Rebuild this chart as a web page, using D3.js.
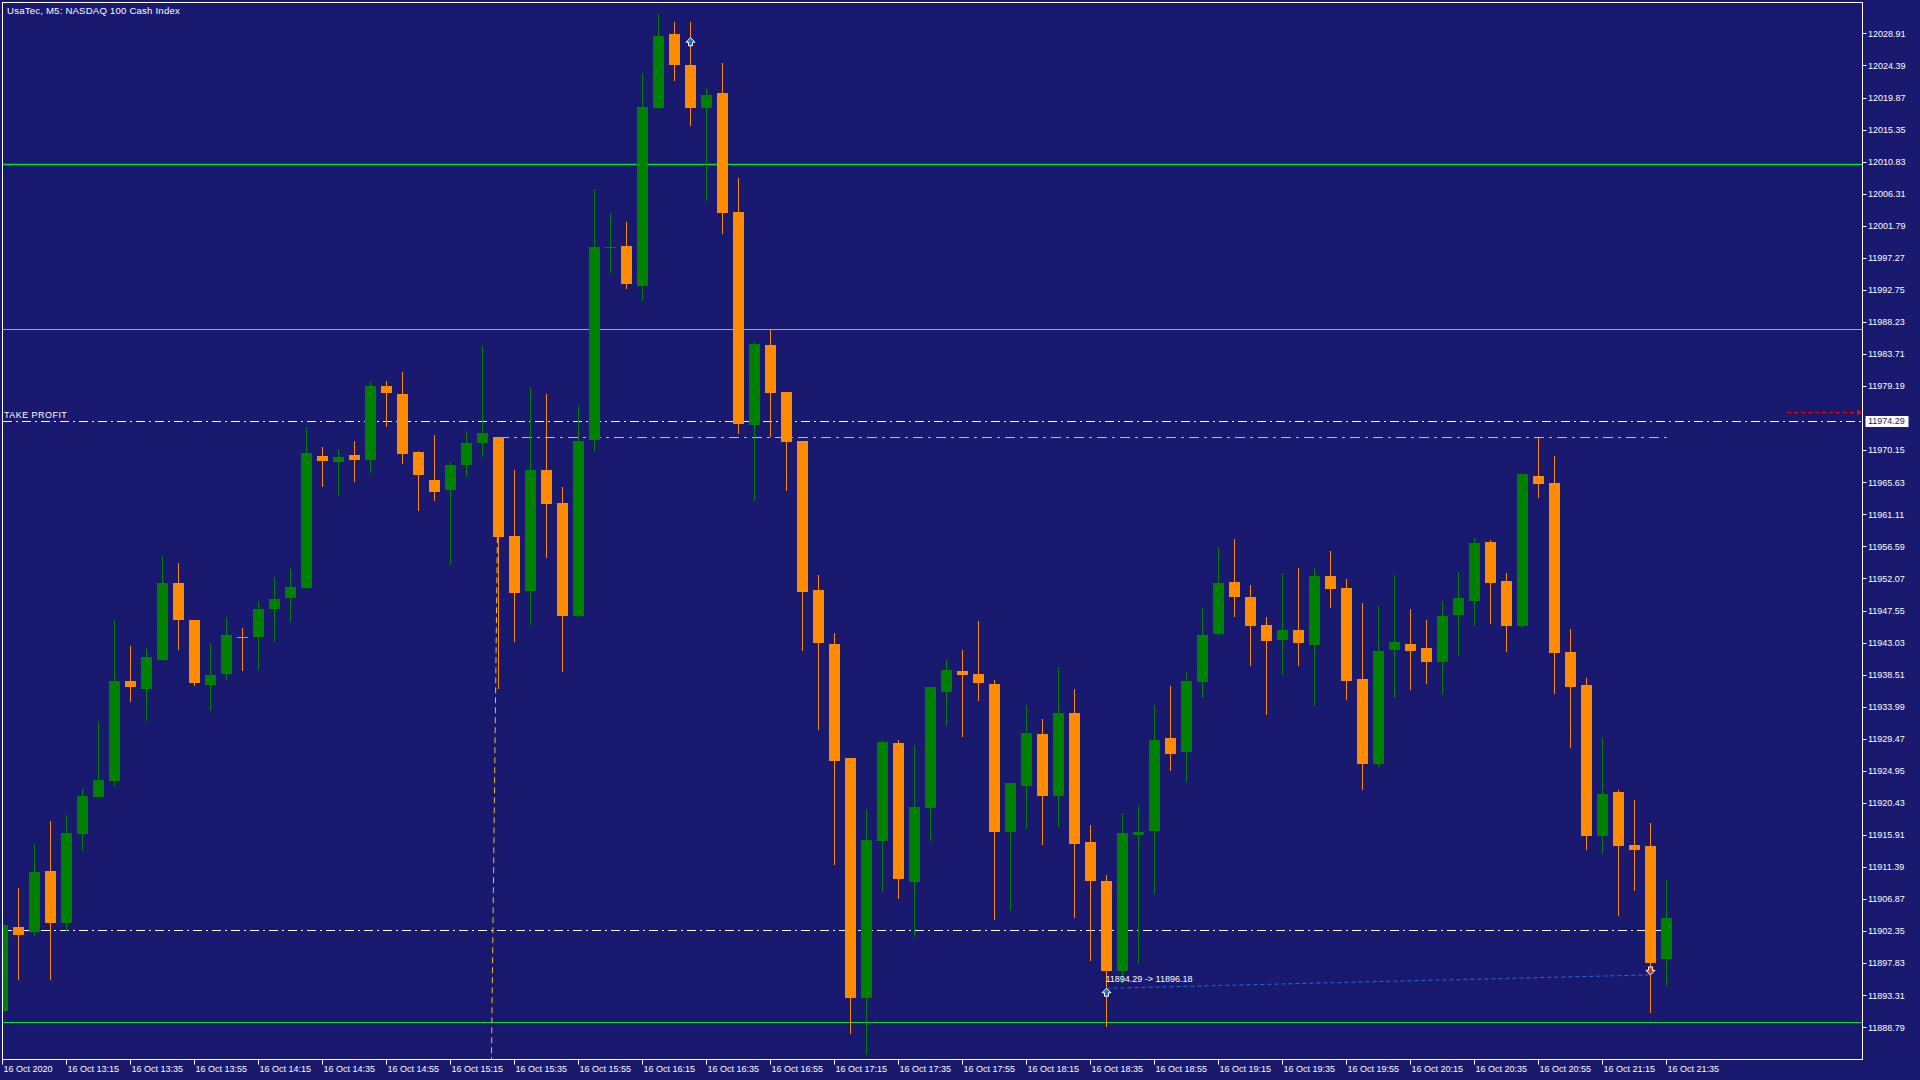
<!DOCTYPE html>
<html>
<head>
<meta charset="utf-8">
<script src="https://cdn.jsdelivr.net/npm/d3@7"></script>
<style>
body { margin: 0; background: #191970; overflow: hidden; }
text { font-family: "Liberation Sans", Arial, sans-serif; font-size: 9px; fill: #ffffff; }
</style>
</head>
<body>
<div id="chart"></div>
<script>
// UsaTec M5, 16 Oct 2020 12:55 .. 21:35 (105 bars)
let opens = [11891.07,11902.95,11902.16,11910.83,11903.54,11916.01,11921.26,11923.49,11937.60,11936.55,
  11940.62,11951.45,11946.20,11937.08,11938.65,11943.84,11943.84,11947.76,11949.35,11950.76,
  11969.33,11968.53,11969.47,11968.81,11979.19,11978.07,11969.89,11965.94,11964.58,11968.10,
  11971.21,11972.00,11958.05,11950.35,11967.34,11962.69,11946.76,11971.62,11998.62,11998.94,
  11993.28,12018.45,12028.84,12024.43,12018.33,12020.53,12003.72,11973.64,11984.97,11978.36,
  11971.40,11950.46,11942.84,11926.73,11892.98,11915.09,11928.86,11909.31,11919.74,11936.06,
  11939.04,11938.62,11937.16,11916.35,11922.81,11930.12,11921.46,11933.09,11914.91,11909.41,
  11896.77,11915.94,11916.51,11929.57,11927.60,11937.47,11944.23,11951.56,11949.45,11945.50,
  11943.39,11944.80,11942.68,11952.41,11950.69,11937.87,11925.94,11942.05,11942.83,11942.27,
  11940.32,11946.96,11948.96,11957.22,11951.70,11945.40,11966.52,11965.52,11941.72,11937.03,
  11915.79,11921.98,11914.51,11914.35,11898.35];
let highs = [11903.50,11908.40,11914.63,11917.85,11918.70,11922.38,11931.83,11946.20,11942.53,11942.26,
  11955.26,11954.21,11946.20,11942.99,11946.60,11945.09,11948.96,11952.27,11953.54,11973.41,
  11970.59,11970.31,11971.44,11979.90,11979.90,11981.17,11970.03,11972.29,11968.48,11972.85,
  11984.83,11972.00,11967.35,11979.05,11978.04,11964.95,11976.41,12007.00,12003.60,12002.34,
  12023.30,12031.67,12030.54,12030.54,12021.22,12024.75,12008.51,11985.41,11987.23,11978.36,
  11971.40,11952.55,11944.36,11926.73,11919.58,11929.28,11929.28,11928.60,11936.74,11940.55,
  11941.96,11946.08,11937.73,11923.23,11934.24,11932.26,11939.56,11936.48,11917.30,11910.26,
  11919.00,11919.98,11934.22,11936.90,11938.88,11947.90,11956.50,11957.63,11951.14,11946.63,
  11952.83,11953.54,11953.54,11955.93,11951.97,11948.63,11948.18,11952.53,11947.74,11946.23,
  11948.91,11952.98,11957.77,11957.49,11952.81,11966.80,11971.88,11969.31,11944.95,11938.04,
  11929.56,11922.26,11920.81,11917.58,11909.55];
let lows = [11890.50,11895.66,11901.83,11895.66,11902.56,11913.84,11921.26,11922.77,11934.85,11932.16,
  11940.62,11942.07,11937.08,11933.47,11937.93,11939.18,11939.31,11943.29,11946.11,11950.76,
  11965.14,11963.87,11965.85,11967.12,11973.60,11968.39,11961.76,11963.17,11954.15,11966.55,
  11969.37,11936.66,11943.29,11945.69,11955.13,11938.96,11946.76,11969.99,11995.29,11993.02,
  11991.39,12018.45,12022.29,12015.93,12005.49,12000.83,11972.63,11963.19,11972.13,11964.57,
  11942.01,11930.90,11911.86,11888.02,11885.05,11908.05,11907.01,11901.69,11915.25,11931.47,
  11929.91,11934.92,11904.04,11905.39,11916.87,11914.63,11917.23,11904.38,11898.27,11889.01,
  11894.98,11897.90,11907.76,11925.06,11923.51,11935.35,11944.09,11946.77,11939.86,11932.95,
  11938.59,11939.86,11934.22,11948.04,11935.14,11922.32,11925.66,11935.42,11936.42,11937.37,
  11935.81,11941.22,11945.56,11945.84,11941.83,11945.23,11963.57,11935.98,11928.34,11913.95,
  11913.40,11904.64,11908.21,11890.99,11894.78];
let closes = [11903.21,11901.83,11910.69,11903.54,11916.21,11921.39,11923.62,11937.60,11936.82,11941.02,
  11951.45,11946.27,11937.34,11938.46,11944.10,11943.64,11947.78,11949.17,11950.86,11969.75,
  11968.67,11969.19,11968.81,11979.19,11978.26,11969.66,11966.69,11964.30,11968.06,11971.16,
  11972.57,11957.95,11950.06,11967.34,11962.56,11946.76,11971.43,11998.81,11998.80,11993.59,
  12018.51,12028.52,12024.49,12018.33,12020.21,12003.66,11973.89,11985.09,11978.23,11971.25,
  11950.20,11943.00,11926.36,11892.98,11915.20,11929.02,11909.72,11919.84,11936.74,11939.14,
  11938.46,11937.31,11916.35,11923.23,11930.27,11921.46,11933.09,11914.67,11909.46,11896.77,
  11916.18,11916.32,11929.29,11927.31,11937.61,11944.09,11951.42,11949.45,11945.36,11943.25,
  11944.80,11942.96,11952.41,11950.58,11937.65,11925.94,11941.83,11943.11,11941.88,11940.32,
  11946.79,11949.30,11957.05,11951.36,11945.40,11966.80,11965.41,11941.49,11936.70,11915.79,
  11921.65,11914.40,11913.84,11897.90,11904.20];

let priceTicks = ["11888.79","11893.31","11897.83","11902.35","11906.87","11911.39","11915.91","11920.43",
  "11924.95","11929.47","11933.99","11938.51","11943.03","11947.55","11952.07","11956.59","11961.11",
  "11965.63","11970.15","11979.19","11983.71","11988.23","11992.75","11997.27","12001.79",
  "12006.31","12010.83","12015.35","12019.87","12024.39","12028.91"];

let timeLabels = ["16 Oct 2020","16 Oct 13:15","16 Oct 13:35","16 Oct 13:55","16 Oct 14:15","16 Oct 14:35",
  "16 Oct 14:55","16 Oct 15:15","16 Oct 15:35","16 Oct 15:55","16 Oct 16:15","16 Oct 16:35","16 Oct 16:55",
  "16 Oct 17:15","16 Oct 17:35","16 Oct 17:55","16 Oct 18:15","16 Oct 18:35","16 Oct 18:55","16 Oct 19:15",
  "16 Oct 19:35","16 Oct 19:55","16 Oct 20:15","16 Oct 20:35","16 Oct 20:55","16 Oct 21:15","16 Oct 21:35"];
let labelEvery = 4;

// horizontal levels
let greenLevels = [12010.45, 11889.47];
let cyanLevel = 11987.21;
let takeProfit = 11974.29;
let askPrice = 11975.55;
let openLine = 11902.56;
// trade lines
let pendingLevel = { from: 31, to: 104, price: 11971.97 };
let pendingDrop = { from: [31, 11971.97], to: [30.56, 11884.2] };
let trade = { openBar: 69, openPrice: 11894.29, closeBar: 103, closePrice: 11896.18 };
let extraArrow = { bar: 43, price: 12028.3 };

const W = 1920, H = 1080;
const L = 2.5, T = 2.5, R = 1862.5, B = 1059.5;

let svg = d3.select('#chart').append('svg')
  .attr('width', W).attr('height', H);
svg.append('rect').attr('width', W).attr('height', H).attr('fill', '#191970');

let x = d3.scaleLinear().domain([0, 104]).range([2.5, 1666.5]);
let y = d3.scaleLinear().domain([11888.79, 12028.91]).range([1027.3, 33.4]);
let py = function (p) { return Math.round(y(p)) + 0.5; };

svg.append('defs').append('clipPath').attr('id', 'plot')
  .append('rect').attr('x', 3).attr('y', 3).attr('width', R - 3).attr('height', B - 3);

let plot = svg.append('g').attr('clip-path', 'url(#plot)');

// levels
plot.selectAll('.green').data(greenLevels).enter().append('line')
  .attr('x1', L).attr('x2', R)
  .attr('y1', d => py(d)).attr('y2', d => py(d))
  .attr('stroke', '#00e61e').attr('stroke-width', (d, i) => i == 0 ? 1.5 : 1);
plot.append('line').attr('x1', L).attr('x2', R).attr('y1', py(cyanLevel)).attr('y2', py(cyanLevel))
  .attr('stroke', '#3cc8f0').attr('stroke-width', 1);
plot.append('line').attr('x1', L).attr('x2', R).attr('y1', py(takeProfit)).attr('y2', py(takeProfit))
  .attr('stroke', '#ffffff').attr('stroke-dasharray', '9,4,2,4').attr('shape-rendering', 'crispEdges');
plot.append('line').attr('x1', L).attr('x2', x(104)).attr('y1', py(openLine)).attr('y2', py(openLine))
  .attr('stroke', '#ffffff').attr('stroke-dasharray', '9,4,2,4').attr('shape-rendering', 'crispEdges');
plot.append('line').attr('x1', x(pendingLevel.from)).attr('x2', x(pendingLevel.to))
  .attr('y1', py(pendingLevel.price)).attr('y2', py(pendingLevel.price))
  .attr('stroke', '#f0c020').attr('stroke-dasharray', '10,5,3,5').attr('shape-rendering', 'crispEdges');
plot.append('line')
  .attr('x1', x(pendingDrop.from[0])).attr('y1', y(pendingDrop.from[1]))
  .attr('x2', x(pendingDrop.to[0])).attr('y2', y(pendingDrop.to[1]))
  .attr('stroke', '#f0c020').attr('stroke-dasharray', '6,4');

plot.append('text').attr('x', 4).attr('y', 418).style('letter-spacing', '0.45px').text('TAKE PROFIT');

// candles
let idx = d3.range(opens.length);
let candle = plot.selectAll('.candle').data(idx).enter().append('g').attr('class', 'candle');
let col = i => closes[i] >= opens[i] ? '#008000' : '#ff8c00';
candle.append('line')
  .attr('x1', i => x(i)).attr('x2', i => x(i))
  .attr('y1', i => Math.round(y(highs[i]))).attr('y2', i => Math.round(y(lows[i])) + 1)
  .attr('stroke', col).attr('stroke-width', 1);
candle.append('rect')
  .attr('x', i => x(i) - 5.5).attr('width', 11)
  .attr('y', i => Math.round(y(Math.max(opens[i], closes[i]))))
  .attr('height', i => Math.max(1, Math.round(y(Math.min(opens[i], closes[i]))) - Math.round(y(Math.max(opens[i], closes[i])))))
  .attr('fill', col);

// closed trade
plot.append('line')
  .attr('x1', x(trade.openBar)).attr('y1', y(trade.openPrice))
  .attr('x2', x(trade.closeBar)).attr('y2', y(trade.closePrice))
  .attr('stroke', '#1e6fd0').attr('stroke-dasharray', '4,3');
plot.append('text').attr('x', x(trade.openBar) - 1).attr('y', y(trade.openPrice) - 6)
  .text(trade.openPrice.toFixed(2) + ' -> ' + trade.closePrice.toFixed(2));

let upArrow = 'M0,0 L4.5,4.5 L2,4.5 L2,8 L-2,8 L-2,4.5 L-4.5,4.5 Z';
let downArrow = 'M0,0 L4.5,-4.5 L2,-4.5 L2,-8 L-2,-8 L-2,-4.5 L-4.5,-4.5 Z';
plot.append('path').attr('d', upArrow)
  .attr('transform', 'translate(' + x(trade.openBar) + ',' + y(trade.openPrice) + ')')
  .attr('fill', '#1e6fd0').attr('stroke', '#ffffff').attr('stroke-width', 1);
plot.append('path').attr('d', upArrow)
  .attr('transform', 'translate(' + x(extraArrow.bar) + ',' + y(extraArrow.price) + ')')
  .attr('fill', '#1e6fd0').attr('stroke', '#ffffff').attr('stroke-width', 1);
plot.append('path').attr('d', downArrow)
  .attr('transform', 'translate(' + x(trade.closeBar) + ',' + y(trade.closePrice) + ')')
  .attr('fill', '#e8301c').attr('stroke', '#ffffff').attr('stroke-width', 1);

// ask marker near the price scale
plot.append('line').attr('x1', 1787).attr('x2', 1857).attr('y1', py(askPrice)).attr('y2', py(askPrice))
  .attr('stroke', '#ff0000').attr('stroke-dasharray', '4,3');
plot.append('path')
  .attr('d', 'M' + 1857 + ',' + (py(askPrice) - 3) + ' L' + 1862 + ',' + py(askPrice) + ' L' + 1857 + ',' + (py(askPrice) + 3) + ' Z')
  .attr('fill', '#ff0000');

// frame
svg.append('rect').attr('x', L).attr('y', T).attr('width', R - L).attr('height', B - T)
  .attr('fill', 'none').attr('stroke', '#ffffff').attr('stroke-width', 1);

// title
svg.append('text').attr('x', 7).attr('y', 13.5).style('font-size', '9.6px').style('letter-spacing', '0.2px')
  .text('UsaTec, M5:  NASDAQ 100 Cash Index');

// price scale
let yAxis = svg.append('g');
yAxis.selectAll('line').data(priceTicks).enter().append('line')
  .attr('x1', R).attr('x2', R + 4)
  .attr('y1', d => py(+d)).attr('y2', d => py(+d))
  .attr('stroke', '#ffffff');
yAxis.selectAll('text').data(priceTicks).enter().append('text')
  .attr('x', 1868).attr('y', d => y(+d) + 3.3).text(d => d);

yAxis.append('rect').attr('x', 1865.5).attr('y', py(takeProfit) - 5.5).attr('width', 43).attr('height', 11)
  .attr('fill', '#ffffff');
yAxis.append('text').attr('x', 1868).attr('y', y(takeProfit) + 3.3).style('fill', '#191970')
  .text(takeProfit.toFixed(2));

// time scale
let xAxis = svg.append('g');
xAxis.selectAll('line').data(timeLabels).enter().append('line')
  .attr('x1', (d, i) => x(i * labelEvery)).attr('x2', (d, i) => x(i * labelEvery))
  .attr('y1', B).attr('y2', B + 5)
  .attr('stroke', '#ffffff');
xAxis.selectAll('text').data(timeLabels).enter().append('text')
  .attr('x', (d, i) => x(i * labelEvery) + 1).attr('y', 1072).text(d => d);
</script>
</body>
</html>
